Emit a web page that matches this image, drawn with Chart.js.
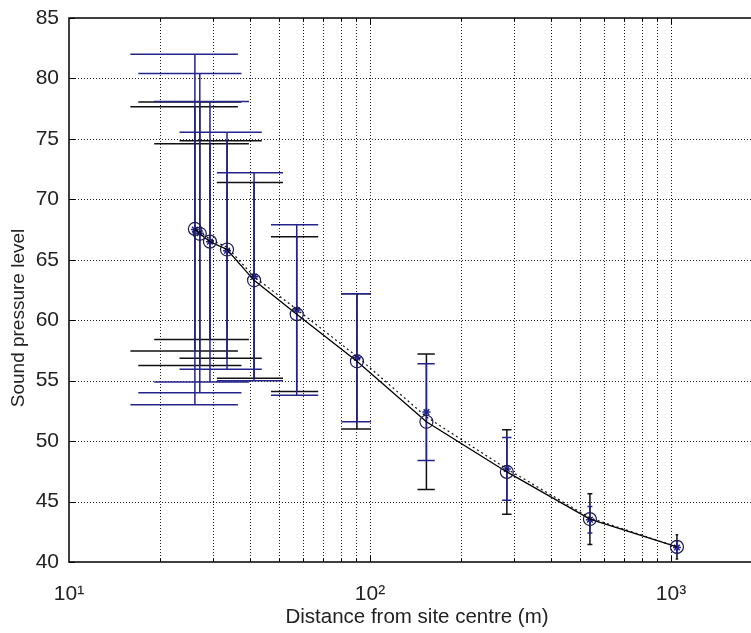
<!DOCTYPE html>
<html lang="en">
<head>
<meta charset="UTF-8">
<title>Sound pressure level vs distance</title>
<script src="https://cdn.jsdelivr.net/npm/chart.js"></script>
<style>
  html, body { margin: 0; padding: 0; background: #fff; }
  #wrap { width: 751px; height: 633px; }
</style>
</head>
<body>
<div id="wrap"><canvas id="splChart"></canvas></div>
<script>
  // distances (m) of the measurement points
  const distance = [26.2, 27.2, 29.4, 33.5, 41.2, 57.1, 90.5, 154, 285, 538, 1047];
  // fitted level (circles, solid line) and its error half-length (black bars)
  const fittedLevel = [67.55, 67.15, 66.5, 65.85, 63.3, 60.5, 56.6, 51.6, 47.45, 43.55, 41.25];
  const fittedErr = [10.1, 10.9, 8.1, 9.0, 8.1, 6.4, 5.6, 5.6, 3.5, 2.1, 1.0];
  // measured mean level (blue markers) and its error half-length (blue bars)
  const measuredLevel = [67.5, 67.2, 66.5, 65.75, 63.6, 60.85, 56.9, 52.4, 47.7, 43.5, 41.2];
  const measuredErr = [14.5, 13.2, 11.6, 9.8, 8.6, 7.05, 5.3, 4.0, 2.6, 1.1, 0.5];
  // second model curve (dotted)
  const modelLevel = [67.6, 67.3, 66.7, 66.05, 63.6, 60.9, 57.0, 52.0, 47.7, 43.65, 41.25];

  const xTickValues = [10, 100, 1000];
  const xTickLabels = ['10¹', '10²', '10³'];
  const xGridValues = [20, 30, 40, 50, 60, 70, 80, 90, 100, 200, 300, 400, 500, 600, 700, 800, 900, 1000];
  const yTickValues = [40, 45, 50, 55, 60, 65, 70, 75, 80, 85];

  const navy = '#24248c';
  const font = "'Liberation Sans', Arial, sans-serif";
  const textColor = '#222';

  // caps like matlab errorbar: width from the x range
  const tee = (Math.max(...distance) - Math.min(...distance)) / 100;

  const matlabAxes = {
    id: 'matlabAxes',
    beforeDatasetsDraw(chart) {
      const { ctx, chartArea: a, scales: { x, y } } = chart;
      ctx.save();
      // dotted grid
      ctx.strokeStyle = '#222';
      ctx.lineWidth = 1;
      ctx.setLineDash([1, 2]);
      xGridValues.forEach(v => {
        const px = Math.round(x.getPixelForValue(v)) + 0.5;
        ctx.beginPath(); ctx.moveTo(px, a.top); ctx.lineTo(px, a.bottom); ctx.stroke();
      });
      yTickValues.slice(1, -1).forEach(v => {
        const py = Math.round(y.getPixelForValue(v)) + 0.5;
        ctx.beginPath(); ctx.moveTo(a.left, py); ctx.lineTo(a.right, py); ctx.stroke();
      });
      ctx.setLineDash([]);

      // error bars, black first then blue on top
      const drawBars = (centers, errs, color) => {
        ctx.strokeStyle = color;
        ctx.lineWidth = 1.5;
        distance.forEach((d, i) => {
          const px = x.getPixelForValue(d);
          const x0 = x.getPixelForValue(d - tee);
          const x1 = x.getPixelForValue(d + tee);
          const top = y.getPixelForValue(centers[i] + errs[i]);
          const bot = y.getPixelForValue(centers[i] - errs[i]);
          ctx.beginPath();
          ctx.moveTo(px, top); ctx.lineTo(px, bot);
          ctx.moveTo(x0, top); ctx.lineTo(x1, top);
          ctx.moveTo(x0, bot); ctx.lineTo(x1, bot);
          ctx.stroke();
        });
      };
      drawBars(fittedLevel, fittedErr, '#111');
      drawBars(measuredLevel, measuredErr, navy);
      ctx.restore();
    },
    afterDraw(chart) {
      const { ctx, chartArea: a, scales: { x, y } } = chart;
      ctx.save();
      ctx.strokeStyle = '#000';
      ctx.lineWidth = 1.5;
      ctx.beginPath();
      ctx.moveTo(a.right, a.top); ctx.lineTo(a.left, a.top);
      ctx.lineTo(a.left, a.bottom); ctx.lineTo(a.right, a.bottom);
      ctx.stroke();
      // inward tick marks
      ctx.lineWidth = 1;
      xGridValues.forEach(v => {
        const px = Math.round(x.getPixelForValue(v)) + 0.5;
        const len = xTickValues.includes(v) ? 6 : 3;
        ctx.beginPath();
        ctx.moveTo(px, a.bottom); ctx.lineTo(px, a.bottom - len);
        ctx.moveTo(px, a.top); ctx.lineTo(px, a.top + len);
        ctx.stroke();
      });
      yTickValues.forEach(v => {
        const py = Math.round(y.getPixelForValue(v)) + 0.5;
        ctx.beginPath(); ctx.moveTo(a.left, py); ctx.lineTo(a.left + 6, py); ctx.stroke();
      });
      // axis titles
      ctx.fillStyle = textColor;
      ctx.textAlign = 'center';
      ctx.textBaseline = 'middle';
      ctx.font = '20.5px ' + font;
      ctx.fillText('Distance from site centre (m)', 417, 617);
      ctx.font = '19px ' + font;
      ctx.translate(19, 318);
      ctx.rotate(-Math.PI / 2);
      ctx.fillText('Sound pressure level', 0, 0);
      ctx.restore();
    }
  };

  const ctx = document.getElementById('splChart').getContext('2d');
  const splChart = new Chart(ctx, {
    type: 'scatter',
    data: {
      datasets: [
        {
          label: 'model',
          data: distance.map((d, i) => ({ x: d, y: modelLevel[i] })),
          showLine: true,
          borderColor: '#111',
          borderWidth: 1.2,
          borderDash: [2, 3],
          pointRadius: 0
        },
        {
          label: 'fitted',
          data: distance.map((d, i) => ({ x: d, y: fittedLevel[i] })),
          showLine: true,
          borderColor: '#000',
          borderWidth: 1.3,
          pointStyle: 'circle',
          pointRadius: 6.5,
          pointBorderColor: '#1c1c50',
          pointBorderWidth: 1.2,
          pointBackgroundColor: 'rgba(0,0,0,0)'
        },
        {
          label: 'measured',
          data: distance.map((d, i) => ({ x: d, y: measuredLevel[i] })),
          pointStyle: 'star',
          pointRadius: 4,
          pointBorderColor: navy,
          pointBorderWidth: 1.5,
          pointBackgroundColor: navy
        }
      ]
    },
    options: {
      responsive: true,
      maintainAspectRatio: false,
      animation: false,
      layout: { autoPadding: false, padding: { top: 18, right: 0, bottom: 0, left: 0 } },
      plugins: { legend: { display: false }, tooltip: { enabled: false } },
      scales: {
        x: {
          type: 'logarithmic',
          min: 10,
          max: 1845,
          grid: { display: false },
          border: { display: false },
          afterBuildTicks: s => { s.ticks = xTickValues.map(v => ({ value: v })); },
          afterFit: s => { s.height = 71; },
          ticks: {
            autoSkip: false,
            maxRotation: 0,
            padding: 12,
            color: textColor,
            font: { family: font, size: 21 },
            callback: (v, i) => xTickLabels[i]
          }
        },
        y: {
          min: 40,
          max: 85,
          grid: { display: false },
          border: { display: false },
          afterFit: s => { s.width = 69; },
          ticks: {
            stepSize: 5,
            padding: 2,
            color: textColor,
            font: { family: font, size: 21 }
          }
        }
      }
    },
    plugins: [matlabAxes]
  });
</script>
</body>
</html>
